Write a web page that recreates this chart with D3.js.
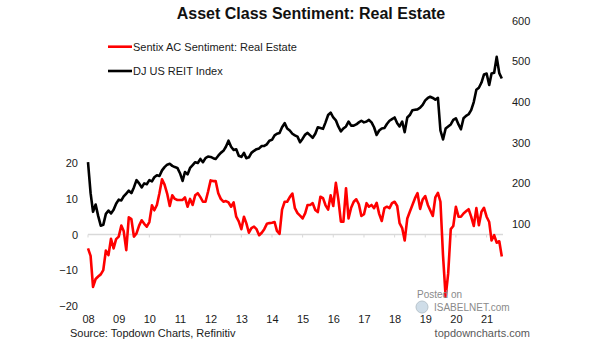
<!DOCTYPE html>
<html>
<head>
<meta charset="utf-8">
<script src="https://cdn.jsdelivr.net/npm/d3@7"></script>
<style>
  body { margin: 0; background: #fff; }
  text { font-family: "Liberation Sans", Arial, sans-serif; }
  .axis .domain { display: none; }
  .axis text { fill: #1a1a1a; font-size: 11px; }
</style>
</head>
<body>
<div id="chart"></div>
<script>
// monthly data, Jan 2008 .. Jul 2021
var startYear = 2008, startMonth = 0;

// DJ US REIT Index (right axis)
var reit = [
  252, 176, 130, 148, 120, 96, 98, 125, 133, 126, 135, 150,
  160, 158, 168, 175, 182, 176, 190, 208, 200, 190, 200, 198,
  208, 205, 215, 220, 218, 232, 240, 246, 248, 243, 240, 238,
  225, 206, 228, 222, 238, 245, 252, 250, 260, 252, 262, 266,
  265, 262, 260, 268, 275, 280, 290, 305, 290, 282, 284, 268,
  265, 275, 262, 264, 275, 280, 284, 286, 292, 292, 296, 305,
  307, 318, 322, 324, 338, 348, 335, 330, 322, 318, 315, 301,
  310, 320, 324, 318, 312, 322, 338, 336, 334, 350, 368, 374,
  362, 355, 340, 328, 335, 340, 352, 342, 342, 345, 350, 354,
  350, 352, 356, 350, 338, 319, 330, 335, 336, 346, 354, 358,
  362, 348, 340, 352, 326, 362, 368, 380, 381, 382, 386, 393,
  404, 410, 413, 410, 406, 410, 330, 308, 335, 340, 345, 356,
  360, 345, 333, 360, 366, 370, 380, 400, 430, 435, 448, 468,
  470, 442, 470, 472, 511, 471, 458
];

// Sentix AC Sentiment: Real Estate (left axis)
var sentix = [
  -3.9, -6, -14.7, -12.5, -11.8, -11.2, -10, -4.5, -5.8, -1.2, -3.9, -1.3,
  -0.6, 2.5, 1, -4.4, 4.8, 4.3, -0.6, 0.3, 2.5, 4, 3, 2.2,
  3.5, 8.2, 6.8, 8.3, 11.6, 15.5, 14, 11.5, 8, 11, 10, 9.7,
  9.7, 9.7, 10.4, 7.8, 10, 8.3, 11, 11.6, 10.5, 9.2, 9.2, 12,
  15.2, 15, 15, 11.6, 10, 9.2, 9.4, 9, 7.8, 9, 5, 3.7,
  1.5, 5, 3.2, 0.5, 1.8, 2.2, 1.5, -0.2, 0.5, 1.5, 3, 3.2,
  3.3, 3.5, 1, 0.2, 7, 9.2, 9.2, 10.5, 11.5, 7.4, 6, 5.3,
  4.5, 6, 8.3, 8.3, 8.8, 6.9, 6.3, 10.6, 10.2, 8.2, 7, 11,
  8, 14.5, 10, 3.6, 3.6, 13, 4.5, 7.5, 9.2, 9.9, 8.5, 5.2,
  5.7, 8.8, 7.8, 8.3, 7.4, 8.9, 5.8, 3.8, 7.4, 7.8, 7.4, 8.8,
  9.2, 8, 3.2, 1.8, -1.7, 4.5, 6.4, 8.3, 10.2, 11.6, 7.2, 9.8,
  10.8, 8.3, 6.8, 5.2, 10.4, 11.7, 9.2, -6, -17.5, -11, 1.5, 2.4,
  7.8, 5, 5, 5.9, 6.5, 7.1, 5, 2.4, 7.4, 2.6, 6.4, 7.5,
  5, 3.5, -1.7, -0.2, -2.3, -1.9, -6.2
];

var leftTicks = [-20, -10, 0, 10, 20];
var rightTicks = [100, 200, 300, 400, 500, 600];
var yearTicks = d3.range(2008, 2022);

var width = 605, height = 341;

var svg = d3.select("#chart")
    .append("svg")
    .attr("width", width)
    .attr("height", height);

var dates = reit.map(function(d, i) { return new Date(startYear, startMonth + i, 1); });

var x = d3.scaleTime()
    .domain([new Date(2008, 0, 1), new Date(2021, 6, 1)])
    .range([88, 501.8]);

var yL = d3.scaleLinear().domain([-20, 20]).range([305.7, 163.3]);
var yR = d3.scaleLinear().domain([0, 600]).range([264.7, 20.7]);

// zero line with small year ticks
svg.append("line")
    .attr("x1", x.range()[0]).attr("x2", 503)
    .attr("y1", yL(0)).attr("y2", yL(0))
    .attr("stroke", "#d9d9d9").attr("stroke-width", 1.5);

svg.selectAll(".yt")
    .data(yearTicks)
    .enter().append("line")
    .attr("x1", function(d) { return x(new Date(d, 0, 1)); })
    .attr("x2", function(d) { return x(new Date(d, 0, 1)); })
    .attr("y1", yL(0)).attr("y2", yL(0) + 3)
    .attr("stroke", "#d9d9d9").attr("stroke-width", 1);

// axes
svg.append("g")
    .attr("class", "axis")
    .attr("transform", "translate(81,0)")
    .call(d3.axisLeft(yL).tickValues(leftTicks).tickSize(0).tickPadding(3));

svg.append("g")
    .attr("class", "axis")
    .attr("transform", "translate(509,0)")
    .call(d3.axisRight(yR).tickValues(rightTicks).tickSize(0).tickPadding(3));

svg.append("g")
    .attr("class", "axis")
    .attr("transform", "translate(0,312)")
    .call(d3.axisBottom(x)
        .tickValues(yearTicks.map(function(d) { return new Date(d, 0, 1); }))
        .tickFormat(d3.timeFormat("%y"))
        .tickSize(0).tickPadding(3));

// lines
var lineR = d3.line()
    .x(function(d, i) { return x(dates[i]); })
    .y(function(d) { return yR(d); });

var lineL = d3.line()
    .x(function(d, i) { return x(dates[i]); })
    .y(function(d) { return yL(d); });

svg.append("path")
    .datum(reit)
    .attr("d", lineR)
    .attr("fill", "none")
    .attr("stroke", "#000")
    .attr("stroke-width", 2.6)
    .attr("stroke-linejoin", "round");

svg.append("path")
    .datum(sentix)
    .attr("d", lineL)
    .attr("fill", "none")
    .attr("stroke", "#ff0000")
    .attr("stroke-width", 2.6)
    .attr("stroke-linejoin", "round");

// title
svg.append("text")
    .attr("x", 311).attr("y", 19)
    .style("text-anchor", "middle")
    .style("font-size", "16px")
    .style("font-weight", "bold")
    .attr("fill", "#111")
    .text("Asset Class Sentiment: Real Estate");

// legend
var legend = [
  { name: "Sentix AC Sentiment: Real Estate", color: "#ff0000", y: 46.7 },
  { name: "DJ US REIT Index", color: "#000", y: 71 }
];
legend.forEach(function(l) {
  svg.append("line")
      .attr("x1", 108).attr("x2", 132)
      .attr("y1", l.y).attr("y2", l.y)
      .attr("stroke", l.color).attr("stroke-width", 2.6);
  svg.append("text")
      .attr("x", 133).attr("y", l.y + 4)
      .style("font-size", "11px")
      .attr("fill", "#1a1a1a")
      .text(l.name);
});

// source + credits
svg.append("text")
    .attr("x", 70).attr("y", 337)
    .style("font-size", "11px")
    .attr("fill", "#1a1a1a")
    .text("Source: Topdown Charts, Refinitiv");

svg.append("text")
    .attr("x", 530).attr("y", 337)
    .style("text-anchor", "end")
    .style("font-size", "11px")
    .attr("fill", "#595959")
    .text("topdowncharts.com");

// watermark
svg.append("text")
    .attr("x", 417).attr("y", 298)
    .style("font-size", "10px")
    .attr("fill", "#8a8a8a")
    .text("Posted on");
svg.append("circle")
    .attr("cx", 422).attr("cy", 307).attr("r", 6)
    .attr("fill", "#cfdde8").attr("stroke", "#b8c4cc");
svg.append("text")
    .attr("x", 434).attr("y", 310.5)
    .style("font-size", "10px")
    .attr("fill", "#8a8a8a")
    .text("ISABELNET.com");
</script>
</body>
</html>
